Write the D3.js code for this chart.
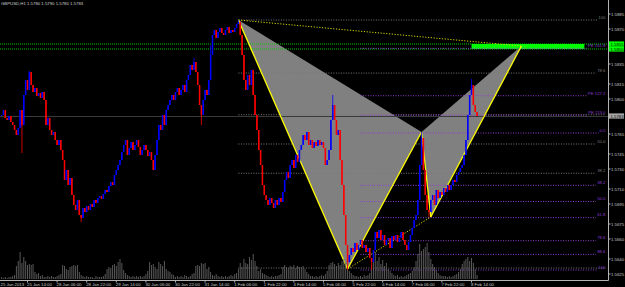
<!DOCTYPE html>
<html>
<head>
<meta charset="utf-8">
<script src="https://cdn.jsdelivr.net/npm/d3@7"></script>
<style>
  html, body { margin: 0; padding: 0; background: #000; }
  svg { display: block; }
  text { font-family: "Liberation Sans", Arial, sans-serif; }
</style>
</head>
<body>
<svg id="chart" width="625" height="287"></svg>
<script>
// GBPUSD H1 closes, one row per trading day (bar 0 = 25 Jan 00:00)
var closes = [
  1.5784,1.5789,1.5781,1.5779,1.5783,1.5777,1.5774,1.5769,1.5764,1.5771,1.5789,1.5774,1.5804,1.5819,1.5809,1.5827,1.5814,1.5807,1.5811,1.5803,1.5806,1.5801,1.5807,1.5799,
  1.5774,1.5781,1.5769,1.5764,1.5767,1.5759,1.5754,1.5759,1.5749,1.5739,1.5719,1.5729,1.5714,1.5721,1.5704,1.5694,1.5689,1.5699,1.5684,1.5681,1.5691,1.5687,1.5693,1.5689,
  1.5695,1.5692,1.5699,1.5696,1.5701,1.5703,1.5700,1.5705,1.5709,1.5707,1.5713,1.5717,1.5714,1.5724,1.5729,1.5734,1.5739,1.5747,1.5754,1.5759,1.5744,1.5751,1.5757,1.5749,
  1.5754,1.5759,1.5752,1.5744,1.5749,1.5754,1.5749,1.5743,1.5747,1.5739,1.5729,1.5744,1.5759,1.5774,1.5769,1.5784,1.5774,1.5789,1.5794,1.5799,1.5804,1.5799,1.5807,1.5811,
  1.5804,1.5809,1.5814,1.5807,1.5819,1.5824,1.5834,1.5829,1.5837,1.5827,1.5814,1.5794,1.5784,1.5799,1.5809,1.5804,1.5819,1.5844,1.5864,1.5869,1.5861,1.5867,1.5871,1.5866,
  1.5864,1.5869,1.5872,1.5866,1.5869,1.5867,1.5871,1.5875,1.5877,1.5864,1.5844,1.5819,1.5809,1.5824,1.5814,1.5829,1.5804,1.5784,1.5769,1.5749,1.5734,1.5714,1.5704,1.5699,
  1.5694,1.5701,1.5696,1.5691,1.5699,1.5694,1.5701,1.5697,1.5707,1.5719,1.5727,1.5721,1.5734,1.5739,1.5731,1.5744,1.5737,1.5749,1.5754,1.5764,1.5759,1.5767,1.5754,1.5759,
  1.5751,1.5757,1.5753,1.5759,1.5754,1.5757,1.5751,1.5734,1.5739,1.5749,1.5779,1.5794,1.5779,1.5764,1.5769,1.5739,1.5714,1.5684,1.5654,1.5637,1.5644,1.5651,1.5647,1.5656,
  1.5649,1.5654,1.5659,1.5651,1.5654,1.5647,1.5651,1.5641,1.5637,1.5649,1.5667,1.5661,1.5669,1.5659,1.5664,1.5654,1.5659,1.5661,1.5651,1.5663,1.5659,1.5664,1.5657,1.5661,
  1.5667,1.5659,1.5654,1.5649,1.5657,1.5664,1.5671,1.5679,1.5684,1.5699,1.5734,1.5761,1.5729,1.5704,1.5689,1.5687,1.5699,1.5704,1.5694,1.5709,1.5701,1.5707,1.5704,1.5711,
  1.5707,1.5714,1.5709,1.5714,1.5719,1.5717,1.5724,1.5727,1.5731,1.5734,1.5744,1.5759,1.5784,1.5804,1.5814,1.5794,1.5787,1.5783
];
// tick volume (hundreds)
var volumes = [
  2,1,2,1,2,2,3,4,13,18,27,16,22,18,14,15,14,15,7,5,6,3,4,2,
  2,3,2,3,2,2,3,4,5,14,13,10,9,12,13,14,13,14,7,4,3,2,3,2,
  2,2,1,3,2,2,2,3,5,10,12,11,14,15,13,17,20,16,9,6,4,3,2,3,
  2,3,2,3,2,3,5,8,17,14,15,12,10,17,15,13,18,10,8,7,5,4,2,3,
  2,3,2,4,3,2,3,5,6,13,14,13,16,15,16,10,12,7,4,3,5,3,2,3,
  2,3,2,3,4,3,5,6,10,16,12,20,16,15,22,19,25,18,13,8,10,6,5,4,
  3,2,3,2,3,3,4,5,12,14,12,11,13,12,14,11,13,12,12,13,10,7,5,3,
  3,2,3,2,3,4,3,5,8,14,16,17,15,13,16,14,18,20,17,12,8,6,4,3,
  3,2,3,2,4,3,4,6,14,20,27,18,22,15,19,13,16,10,8,6,4,3,4,2,
  3,2,3,4,5,6,8,12,18,25,35,28,30,32,36,27,20,15,12,9,6,4,3,3,
  3,2,3,2,3,4,5,7,10,15,18,20,22,18,21,16,10,4
];
// bars whose wick reaches past the body
var wickBars = [11, 15, 43, 104, 108, 113, 128, 179, 187, 200, 227, 231, 254];
var wickPrices = [1.5746, 1.5828, 1.5677, 1.5841, 1.5774, 1.5854, 1.5879, 1.5804, 1.5629, 1.5629, 1.5767, 1.5682, 1.5820];

var timeBars = [0, 14, 30, 46, 62, 78, 94, 110, 126, 142, 158, 174, 190, 206, 222, 238, 254];
var timeLabels = ["25 Jan 2013", "25 Jan 14:00", "28 Jan 06:00", "28 Jan 22:00", "29 Jan 14:00", "30 Jan 06:00",
  "30 Jan 22:00", "31 Jan 14:00", "1 Feb 06:00", "1 Feb 22:00", "4 Feb 14:00", "5 Feb 06:00",
  "5 Feb 22:00", "6 Feb 14:00", "7 Feb 06:00", "7 Feb 22:00", "8 Feb 14:00"];
var priceTicks = [1.5885, 1.5870, 1.5835, 1.5815, 1.5800, 1.5765, 1.5745, 1.5730, 1.5710, 1.5695, 1.5675, 1.5660, 1.5640, 1.5625];

// harmonic pattern X A B C D
var pointBars = [128, 187, 227, 232, 281];
var pointPrices = [1.5879, 1.5630, 1.5767, 1.5682, 1.5853];
var zoneBars = [254, 315];
var zonePrices = [1.5855, 1.5850];

// XA retracement (0 at A, 100 at X)
var xaFib = [1.5631, 1.5879];
var grayLevels = [0, 38.2, 50, 61.8, 78.6, 100];
var grayLabels = ["", "38.2", "50.0", "", "78.6", "100"];
// AB retracement (0 at B, 100 at A) and AB extensions
var abFib = [1.5766, 1.5629];
var abStartBar = 194;
var purpleLevels = [0, 38.2, 50, 61.8, 78.6, 88.6, 100];
var purpleLabels = ["0.0", "38.2", "50.0", "61.8", "78.6", "88.6", "100"];
var peLevels = [113.0, 127.2, 161.8];
var peLabels = ["PE 113.0", "PE 127.2", "PE 161.8"];

var title = "GBPUSD,H1  1.5780 1.5790 1.5780 1.5783";

var svg = d3.select("#chart");
var W = 608, H = 280;
var x = d3.scaleLinear().domain([0, 300]).range([1.6, 556.6]);
var y = d3.scaleLinear().domain([1.5625, 1.5885]).range([274, 14]);
var v = d3.scaleLinear().domain([0, 40]).range([279, 239]);
var fmt = d3.format(".4f");
var purple = "#8c3cd0";

svg.append("rect").attr("width", 625).attr("height", 287).attr("fill", "#000");
svg.append("clipPath").attr("id", "plot").append("rect").attr("width", W).attr("height", H);
var g = svg.append("g").attr("clip-path", "url(#plot)");

var pts = pointBars.map(function(b, i) { return [x(b), y(pointPrices[i])]; });

// pattern triangles
g.append("polygon").attr("points", [pts[0], pts[1], pts[2]].join(" ")).attr("fill", "#808080");
g.append("polygon").attr("points", [pts[2], pts[3], pts[4]].join(" ")).attr("fill", "#808080");

// bid line
g.append("line").attr("x1", 0).attr("x2", W)
  .attr("y1", y(closes[closes.length - 1]) + 0.5).attr("y2", y(closes[closes.length - 1]) + 0.5)
  .attr("stroke", "#3a3a3a");

// green zone
zonePrices.forEach(function(p) {
  g.append("line").attr("x1", 0).attr("x2", W).attr("y1", y(p)).attr("y2", y(p))
    .attr("stroke", "#00d000").attr("stroke-dasharray", "1,1");
});
g.append("rect").attr("x", x(zoneBars[0])).attr("width", x(zoneBars[1]) - x(zoneBars[0]))
  .attr("y", y(zonePrices[0])).attr("height", y(zonePrices[1]) - y(zonePrices[0]))
  .attr("fill", "#00ff00");

// level lines + labels
var labelLayer = svg.append("g");
function level(price, x0, label, color) {
  var yy = y(price);
  var end = W - 2.5;
  if (label) {
    var t = labelLayer.append("text").attr("x", W - 2.5).attr("y", yy - 1.2)
      .attr("text-anchor", "end").attr("font-size", 4.3).attr("fill", color).text(label);
    end = W - 2.5 - t.node().getComputedTextLength() - 1;
  }
  g.append("line").attr("x1", x0).attr("x2", end).attr("y1", yy).attr("y2", yy)
    .attr("stroke", color).attr("stroke-dasharray", "1,1.5");
}
grayLevels.forEach(function(l, i) {
  level(xaFib[0] + (xaFib[1] - xaFib[0]) * l / 100, x(pointBars[0]), grayLabels[i], "#7a7a7a");
});
purpleLevels.forEach(function(l, i) {
  level(abFib[0] + (abFib[1] - abFib[0]) * l / 100, x(abStartBar), purpleLabels[i], purple);
});
peLevels.forEach(function(l, i) {
  level(abFib[1] + (abFib[0] - abFib[1]) * l / 100, x(abStartBar), peLabels[i], purple);
});

// dotted yellow X-D and A-C
[[0, 4], [1, 3]].forEach(function(p) {
  g.append("line").attr("x1", pts[p[0]][0]).attr("y1", pts[p[0]][1])
    .attr("x2", pts[p[1]][0]).attr("y2", pts[p[1]][1])
    .attr("stroke", "#d8d800").attr("stroke-dasharray", "1.2,1.6");
});
// solid legs
[[0, 1], [1, 2], [2, 3], [3, 4]].forEach(function(p) {
  g.append("line").attr("x1", pts[p[0]][0]).attr("y1", pts[p[0]][1])
    .attr("x2", pts[p[1]][0]).attr("y2", pts[p[1]][1])
    .attr("stroke", "#ffff00").attr("stroke-width", 1.3);
});

// volumes
g.selectAll("line.vol").data(volumes).enter().append("line").attr("class", "vol")
  .attr("x1", function(d, i) { return x(i); }).attr("x2", function(d, i) { return x(i); })
  .attr("y1", v(0)).attr("y2", function(d) { return v(d); })
  .attr("stroke", "#626262").attr("stroke-width", 0.9);

// candles
var bars = closes.map(function(c, i) {
  var o = i > 0 ? closes[i - 1] : c;
  var hi = Math.max(o, c), lo = Math.min(o, c);
  var k = wickBars.indexOf(i);
  if (k >= 0) { hi = Math.max(hi, wickPrices[k]); lo = Math.min(lo, wickPrices[k]); }
  return { i: i, o: o, c: c, hi: hi, lo: lo };
});
var cg = g.append("g");
cg.selectAll("line").data(bars).enter().append("line")
  .attr("x1", function(d) { return x(d.i); }).attr("x2", function(d) { return x(d.i); })
  .attr("y1", function(d) { return y(d.hi); }).attr("y2", function(d) { return y(d.lo); })
  .attr("stroke", function(d) { return d.c >= d.o ? "#0000ff" : "#ff0000"; })
  .attr("stroke-width", 0.8);
cg.selectAll("rect").data(bars).enter().append("rect")
  .attr("x", function(d) { return x(d.i) - 0.75; }).attr("width", 1.5)
  .attr("y", function(d) { return y(Math.max(d.o, d.c)); })
  .attr("height", function(d) { return Math.max(1, Math.abs(y(d.o) - y(d.c))); })
  .attr("fill", function(d) { return d.c >= d.o ? "#0000ff" : "#ff0000"; });

// axes
svg.append("line").attr("x1", 0).attr("x2", W + 0.5).attr("y1", H + 0.5).attr("y2", H + 0.5).attr("stroke", "#b4b4b4");
svg.append("line").attr("x1", W + 0.5).attr("x2", W + 0.5).attr("y1", 0).attr("y2", H + 0.5).attr("stroke", "#b4b4b4");

priceTicks.forEach(function(p) {
  svg.append("line").attr("x1", W).attr("x2", W + 2.5).attr("y1", y(p)).attr("y2", y(p)).attr("stroke", "#b4b4b4");
  svg.append("text").attr("x", W + 3).attr("y", y(p) + 1.5).attr("font-size", 4.3)
    .attr("fill", "#c8c8c8").text(fmt(p));
});

timeBars.forEach(function(b, i) {
  var tx = i === 0 ? 0.5 : x(b) - 0.5;
  if (i > 0) svg.append("line").attr("x1", x(b)).attr("x2", x(b)).attr("y1", H).attr("y2", H + 2.5).attr("stroke", "#b4b4b4");
  svg.append("text").attr("x", tx).attr("y", 285.6).attr("font-size", 4.3)
    .attr("fill", "#c8c8c8").text(timeLabels[i]);
});

// price boxes on the right scale
function priceBox(p, bg, fg) {
  svg.append("rect").attr("x", W + 1).attr("y", y(p) - 2.6).attr("width", 15).attr("height", 5.2).attr("fill", bg);
  svg.append("text").attr("x", W + 2.5).attr("y", y(p) + 1.5).attr("font-size", 4.3).attr("fill", fg).text(fmt(p));
}
priceBox(zonePrices[0], "#00ff00", "#000");
priceBox(zonePrices[1], "#00ff00", "#000");
priceBox(closes[closes.length - 1], "#a8a8a8", "#000");

svg.append("text").attr("x", 1).attr("y", 5.2).attr("font-size", 4.3).attr("fill", "#d0d0d0").text(title);
</script>
</body>
</html>
